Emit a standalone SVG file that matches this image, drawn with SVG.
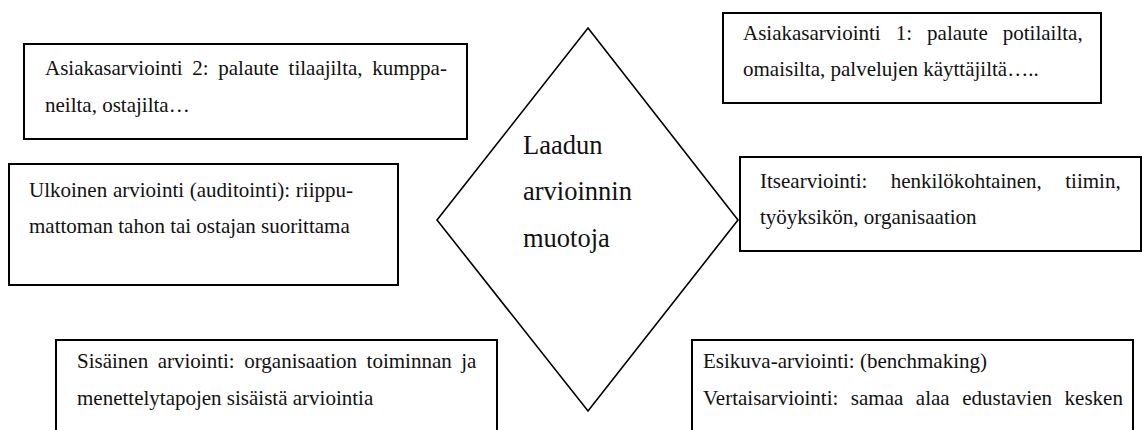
<svg xmlns="http://www.w3.org/2000/svg" width="1144" height="430" viewBox="0 0 1144 430">
  <style>
    .box { fill: #fff; stroke: #000; stroke-width: 2; }
    .diamond { fill: #fff; stroke: #000; stroke-width: 1.6; }
    .t { font-family: "Liberation Serif", "Times New Roman", serif; font-size: 21px; fill: #111; }
    .c { font-family: "Liberation Serif", "Times New Roman", serif; font-size: 26.5px; fill: #111; }
  </style>
  <rect width="1144" height="430" fill="#fff"/>

  <!-- centre shape -->
  <g id="center">
    <polygon class="diamond" points="588,28 738,220 588,411 437,220"/>
    <text class="c" x="523" y="154">Laadun</text>
    <text class="c" x="523" y="200">arvioinnin</text>
    <text class="c" x="523" y="247">muotoja</text>
  </g>

  <g id="asiakas2">
    <rect class="box" x="24" y="44" width="443" height="95"/>
    <text class="t" x="45" y="75" word-spacing="4.4">Asiakasarviointi 2: palaute tilaajilta, kumppa-</text>
    <text class="t" x="45" y="112">neilta, ostajilta…</text>
  </g>

  <g id="ulkoinen">
    <rect class="box" x="9" y="164" width="389" height="121"/>
    <text class="t" x="29" y="197" word-spacing="0.5">Ulkoinen arviointi (auditointi): riippu-</text>
    <text class="t" x="29" y="233">mattoman tahon tai ostajan suorittama</text>
  </g>

  <g id="sisainen">
    <rect class="box" x="56" y="340" width="441" height="100"/>
    <text class="t" x="77" y="368" word-spacing="4.3">Sisäinen arviointi: organisaation toiminnan ja</text>
    <text class="t" x="77" y="405">menettelytapojen sisäistä arviointia</text>
  </g>

  <g id="asiakas1">
    <rect class="box" x="723" y="13" width="378" height="90"/>
    <text class="t" x="743" y="40" word-spacing="9.8">Asiakasarviointi 1: palaute potilailta,</text>
    <text class="t" x="743" y="76">omaisilta, palvelujen käyttäjiltä…..</text>
  </g>

  <g id="itse">
    <rect class="box" x="740" y="157" width="401" height="94"/>
    <text class="t" x="760" y="188" word-spacing="18.2">Itsearviointi: henkilökohtainen, tiimin,</text>
    <text class="t" x="760" y="224">työyksikön, organisaation</text>
  </g>

  <g id="esikuva">
    <rect class="box" x="692" y="340" width="441" height="100"/>
    <text class="t" x="703" y="368">Esikuva-arviointi: (benchmaking)</text>
    <text class="t" x="703" y="405" word-spacing="7.3">Vertaisarviointi: samaa alaa edustavien kesken</text>
  </g>
</svg>
